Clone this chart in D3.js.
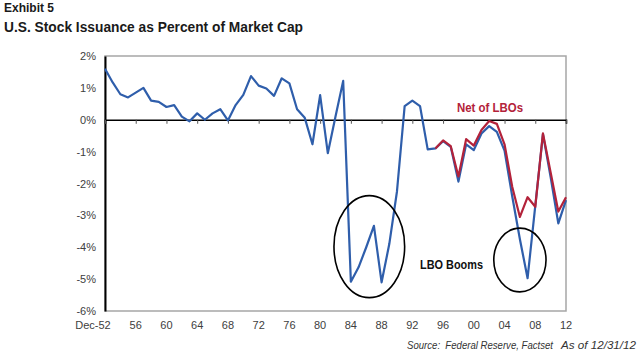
<!DOCTYPE html>
<html>
<head>
<meta charset="utf-8">
<script src="https://cdn.jsdelivr.net/npm/d3@7"></script>
<style>
  body { margin: 0; background: #fff; }
  svg { display: block; }
  text { font-family: "Liberation Sans", Arial, sans-serif; }
</style>
</head>
<body>
<div id="chart"></div>
<script>
// chart values (percent of market cap)
const years = d3.range(1952, 2013);
const issuance = [
  1.6, 1.17, 0.8, 0.7, 0.85, 1.0, 0.6, 0.56, 0.4, 0.46,
  0.1, -0.05, 0.2, 0.0, 0.2, 0.33, -0.02, 0.46, 0.78, 1.37,
  1.07, 0.98, 0.75, 1.3, 1.14, 0.33, 0.06, -0.77, 0.77, -1.05,
  0.1, 1.22, -5.08, -4.63, -4.0, -3.33, -5.1, -3.9, -2.25, 0.43,
  0.6, 0.43, -0.93, -0.9, -0.67, -0.85, -1.94, -0.77, -0.95, -0.43,
  -0.2, -0.38, -0.97, -2.4, -3.75, -4.97, -2.7, -0.45, -1.8, -3.25,
  -2.52
];
const netYears = d3.range(1995, 2013);
const netOfLBOs = [
  -0.9, -0.65, -0.83, -1.78, -0.61, -0.81, -0.32, -0.04, -0.13, -0.77,
  -2.1, -3.05, -2.43, -2.73, -0.43, -1.65, -2.88, -2.43
];
const yTicks = [2, 1, 0, -1, -2, -3, -4, -5, -6];
const xTicks = d3.range(1952, 2013, 4);
const xTickLabels = ['Dec-52', '56', '60', '64', '68', '72', '76', '80', '84', '88', '92', '96', '00', '04', '08', '12'];
// LBO boom circles: [centre year, centre value, half width in years, half height in %]
const booms = [[1986.4, -3.98, 4.6, 1.6], [2006.0, -4.4, 3.4, 1.0]];

const W = 640, H = 361;
const PLOT = {left: 105, right: 566, top: 56, bottom: 311};
const BLUE = '#2f5eab', RED = '#b3223a';

const svg = d3.select('#chart').append('svg')
    .attr('width', W).attr('height', H);

// titles
svg.append('text').attr('x', 4).attr('y', 12)
    .attr('font-size', 12).attr('font-weight', 'bold').attr('fill', '#1a1a1a')
    .text('Exhibit 5');
svg.append('text').attr('x', 4).attr('y', 32)
    .attr('font-size', 14).attr('font-weight', 'bold').attr('fill', '#1a1a1a')
    .attr('textLength', 299).attr('lengthAdjust', 'spacingAndGlyphs')
    .text('U.S. Stock Issuance as Percent of Market Cap');

const x = d3.scaleLinear().domain([1952, 2012]).range([PLOT.left, PLOT.right]);
const y = d3.scaleLinear().domain([-6, 2]).range([PLOT.bottom, PLOT.top]);

// plot frame (grey)
svg.append('rect')
    .attr('x', PLOT.left).attr('y', PLOT.top)
    .attr('width', PLOT.right - PLOT.left).attr('height', PLOT.bottom - PLOT.top)
    .attr('fill', 'none').attr('stroke', '#a6a6a6').attr('stroke-width', 1.5);

// y axis
const yAxis = d3.axisLeft(y).tickValues(yTicks).tickSize(0).tickPadding(9)
    .tickFormat(d => d + '%');
svg.append('g')
    .attr('transform', `translate(${PLOT.left},0)`)
    .call(yAxis)
    .call(g => g.select('.domain').attr('stroke', '#000').attr('stroke-width', 2))
    .call(g => g.selectAll('.tick text')
        .attr('font-family', '"Liberation Sans", Arial, sans-serif')
        .attr('font-size', 11).attr('fill', '#404040'));

// zero line with category ticks
const xAxis = d3.axisBottom(x).tickValues(xTicks).tickSize(4).tickFormat('');
svg.append('g')
    .attr('transform', `translate(0,${y(0)})`)
    .call(xAxis)
    .call(g => g.select('.domain').attr('stroke', '#000').attr('stroke-width', 1.6))
    .call(g => g.selectAll('.tick line').attr('stroke', '#555'));

// x tick labels along the bottom
svg.append('g').selectAll('text')
    .data(xTicks)
    .join('text')
    .attr('x', (d, i) => i === 0 ? x(d) - 12 : x(d))
    .attr('y', PLOT.bottom + 18)
    .attr('text-anchor', 'middle')
    .attr('font-size', 11).attr('fill', '#404040')
    .text((d, i) => xTickLabels[i]);

// series
const line = d3.line().x(d => x(d[0])).y(d => y(d[1]));
svg.append('path')
    .datum(d3.zip(years, issuance))
    .attr('fill', 'none').attr('stroke', BLUE).attr('stroke-width', 2.2)
    .attr('stroke-linejoin', 'round')
    .attr('d', line);
svg.append('path')
    .datum(d3.zip(netYears, netOfLBOs))
    .attr('fill', 'none').attr('stroke', RED).attr('stroke-width', 2.2)
    .attr('stroke-linejoin', 'round')
    .attr('d', line);

// annotations
svg.append('g').selectAll('ellipse')
    .data(booms)
    .join('ellipse')
    .attr('cx', d => x(d[0])).attr('cy', d => y(d[1]))
    .attr('rx', d => x(d[0] + d[2]) - x(d[0]))
    .attr('ry', d => y(d[1] - d[3]) - y(d[1]))
    .attr('fill', 'none').attr('stroke', '#000').attr('stroke-width', 1.6);

svg.append('text').attr('x', 457).attr('y', 112)
    .attr('font-family', 'Lato, "Open Sans", sans-serif')
    .attr('font-size', 12.5).attr('font-weight', 'bold').attr('fill', RED)
    .attr('textLength', 66).attr('lengthAdjust', 'spacingAndGlyphs')
    .text('Net of LBOs');
svg.append('text').attr('x', 420).attr('y', 269)
    .attr('font-family', 'Lato, "Open Sans", sans-serif')
    .attr('font-size', 12).attr('font-weight', 'bold').attr('fill', '#111')
    .attr('textLength', 63).attr('lengthAdjust', 'spacingAndGlyphs')
    .text('LBO Booms');

// source line
svg.append('text').attr('x', 407).attr('y', 349)
    .attr('font-size', 10.5).attr('font-style', 'italic').attr('fill', '#333')
    .attr('xml:space', 'preserve')
    .attr('textLength', 146).attr('lengthAdjust', 'spacingAndGlyphs')
    .text('Source:  Federal Reserve, Factset');
svg.append('text').attr('x', 561).attr('y', 349)
    .attr('font-size', 10.5).attr('font-style', 'italic').attr('fill', '#333')
    .attr('textLength', 75).attr('lengthAdjust', 'spacingAndGlyphs')
    .text('As of 12/31/12');
</script>
</body>
</html>
